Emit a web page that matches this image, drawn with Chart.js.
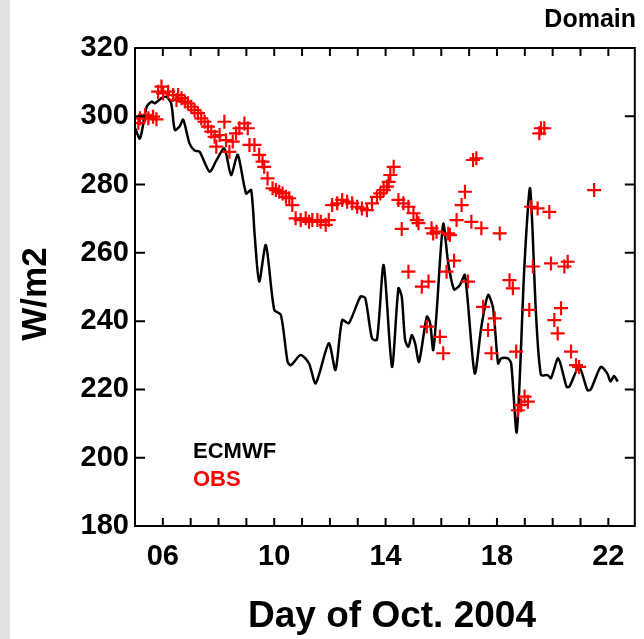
<!DOCTYPE html>
<html>
<head>
<meta charset="utf-8">
<script src="https://cdn.jsdelivr.net/npm/chart.js@4"></script>
<style>
  html, body { margin: 0; padding: 0; }
  body { width: 644px; height: 639px; background: linear-gradient(to right, #e1e1e1 10px, #ffffff 10px); }
  #wrap { position: relative; width: 644px; height: 639px; }
</style>
</head>
<body>
<div id="wrap"><canvas id="myChart"></canvas></div>
<script>
// ECMWF model (black line): day of Oct. 2004, W/m2
var ecmwfDay = [5.0,5.18,5.42,5.6,5.71,5.95,6.13,6.3,6.43,6.6,6.73,6.96,7.14,7.32,7.68,7.92,8.21,8.45,8.69,8.99,9.17,9.3,9.46,9.7,10.0,10.24,10.48,10.6,10.95,11.25,11.49,11.96,12.2,12.44,12.68,13.1,13.27,13.51,13.69,13.93,14.23,14.46,14.58,14.7,14.82,14.94,15.06,15.2,15.48,15.6,15.71,15.83,16.07,16.25,16.46,16.67,16.85,17.2,17.44,17.68,17.86,18.04,18.15,18.39,18.51,18.71,18.99,19.19,19.4,19.58,19.82,19.94,20.2,20.5,20.6,20.95,21.25,21.37,21.73,21.96,22.08,22.2,22.34];
var ecmwfVal = [296.5,293.5,302.8,304.3,303.8,305.3,305.7,303.8,296,297,299,292,290,289.6,283.8,287,290.6,282.8,288.7,277.4,278.4,265,251.6,262.3,243.3,241.8,228.1,227.1,230.1,227.6,221.8,233.5,225.7,240.3,239.4,247.2,246.7,235,234.5,256.4,226.6,249.6,247.2,234.5,232.5,235.9,233.5,228.1,241.3,239.4,231.5,242.3,268.5,256.9,249.3,250.6,253.5,224.7,238.4,247.7,243.8,227.6,229.1,229.1,227.6,207.5,256.9,278.9,242.3,224.2,224.2,223.3,229.1,220.8,220.8,226.6,219.8,220,226.6,224.7,222.3,223.9,222.3];

// OBS (red crosses)
var obsDay = [5.12,5.18,5.36,5.48,5.65,5.77,5.83,5.95,6.01,6.19,6.37,6.49,6.55,6.67,6.79,6.9,7.02,7.14,7.26,7.38,7.5,7.62,7.74,7.86,7.92,8.04,8.21,8.27,8.39,8.51,8.63,8.75,8.93,9.05,9.11,9.29,9.46,9.58,9.64,9.76,9.94,10.06,10.18,10.3,10.42,10.54,10.65,10.77,10.95,11.13,11.25,11.37,11.55,11.67,11.85,11.96,12.08,12.26,12.44,12.62,12.8,12.98,13.15,13.33,13.51,13.69,13.81,13.93,14.05,14.11,14.17,14.29,14.46,14.58,14.64,14.82,14.82,15.0,15.12,15.18,15.3,15.48,15.54,15.65,15.71,15.83,15.95,16.07,16.19,16.25,16.31,16.46,16.55,16.73,16.85,16.96,17.08,17.14,17.26,17.44,17.5,17.68,17.8,17.92,18.1,18.45,18.57,18.69,18.75,18.87,18.99,19.11,19.16,19.23,19.29,19.46,19.52,19.58,19.7,19.88,19.94,20.06,20.18,20.3,20.42,20.54,20.66,20.84,20.95,21.49];
var obsVal = [298,299.4,300.4,299.4,299.9,299.1,307.2,308.7,306.7,307.2,306.2,304.8,306.2,305.3,304.3,303.8,302.8,301.8,300.9,299.4,298.4,297,295.5,294,291.1,294.5,298.4,293,289.6,292.6,295,296.5,297.9,296.5,291.6,291.6,288.7,286.7,285.2,281.8,278.9,278.4,277.9,277.4,276.4,276,274,270.1,269.6,270.1,269.1,269.6,269.6,269.1,268.2,269.6,274,274.5,275.5,275,274.5,273.5,273,272.5,274.5,276.4,277.4,278.4,279.4,280.8,282.8,285.2,275.5,267,274.5,273.5,254.5,271.6,269.6,268.7,250.1,238.4,251.6,267.2,265.7,266.2,235.4,230.6,254.5,265.7,265.2,257.7,269.6,274,277.9,251.6,269.1,287.2,287.7,267.2,244.2,237.4,230.6,240.8,265.7,252,249.6,231.1,213.9,215.4,217.9,216.4,243.3,273.5,256,273,295,296.5,296.5,272,256.9,240.3,236.4,243.8,256,257.4,231.1,227.1,226.6,278.4];

var xLabelDays = [6, 10, 14, 18, 22];
var legendNames = ['ECMWF', 'OBS'];
var xTitle = 'Day of Oct. 2004';
var yTitle = 'W/m2';
var cornerTitle = 'Domain';

var ecmwfPoints = ecmwfDay.map(function (d, i) { return {x: d, y: ecmwfVal[i]}; });
var obsPoints = obsDay.map(function (d, i) { return {x: d, y: obsVal[i]}; });

var FONT = "'Liberation Sans', Arial, sans-serif";

// frame + inward tick marks on all four sides, plus the text labels
var framePlugin = {
  id: 'frame',
  afterDraw: function (chart) {
    var ctx = chart.ctx, a = chart.chartArea;
    var xs = chart.scales.x, ys = chart.scales.y;
    ctx.save();
    ctx.strokeStyle = '#000';
    ctx.lineWidth = 2;
    ctx.strokeRect(a.left, a.top, a.right - a.left, a.bottom - a.top);
    ctx.beginPath();
    xs.ticks.forEach(function (t) {
      var px = xs.getPixelForValue(t.value);
      if (px <= a.left + 1 || px >= a.right - 1) return;
      ctx.moveTo(px, a.bottom); ctx.lineTo(px, a.bottom - 8);
      ctx.moveTo(px, a.top); ctx.lineTo(px, a.top + 8);
    });
    ys.ticks.forEach(function (t) {
      var py = ys.getPixelForValue(t.value);
      if (py <= a.top + 1 || py >= a.bottom - 1) return;
      ctx.moveTo(a.left, py); ctx.lineTo(a.left + 10, py);
      ctx.moveTo(a.right, py); ctx.lineTo(a.right - 10, py);
    });
    ctx.stroke();

    ctx.fillStyle = '#000';
    ctx.textBaseline = 'alphabetic';

    ctx.font = 'bold 25px ' + FONT;
    ctx.textAlign = 'right';
    ctx.fillText(cornerTitle, 636, 27);

    // axis titles
    ctx.font = 'bold 37px ' + FONT;
    ctx.textAlign = 'center';
    ctx.fillText(xTitle, 392, 627);

    ctx.save();
    ctx.translate(46, 294);
    ctx.rotate(-Math.PI / 2);
    ctx.font = 'bold 35px ' + FONT;
    ctx.fillText(yTitle, 0, 0);
    ctx.restore();

    // legend text
    ctx.font = 'bold 22px ' + FONT;
    ctx.textAlign = 'left';
    ctx.fillStyle = '#000';
    ctx.fillText(legendNames[0], 193, 458);
    ctx.fillStyle = '#ff0000';
    ctx.fillText(legendNames[1], 193, 486);
    ctx.restore();
  }
};

var myChart = new Chart(document.getElementById('myChart').getContext('2d'), {
  type: 'scatter',
  data: {
    datasets: [{
      label: legendNames[0],
      data: ecmwfPoints,
      showLine: true,
      borderColor: '#000',
      borderWidth: 2.5,
      tension: 0.25,
      pointRadius: 0,
      order: 2
    }, {
      label: legendNames[1],
      data: obsPoints,
      showLine: false,
      pointStyle: 'cross',
      pointRadius: 7,
      borderColor: '#ff0000',
      backgroundColor: '#ff0000',
      pointBorderWidth: 2.2,
      order: 1
    }]
  },
  options: {
    responsive: true,
    maintainAspectRatio: false,
    animation: false,
    layout: { padding: { top: 48, right: 6, left: 0, bottom: 0 } },
    plugins: { legend: { display: false }, tooltip: { enabled: false } },
    scales: {
      x: {
        type: 'linear',
        min: 5,
        max: 22.95,
        grid: { display: false, drawTicks: false },
        border: { display: false },
        afterFit: function (s) { s.height = 113; },
        ticks: {
          stepSize: 1,
          includeBounds: false,
          autoSkip: false,
          maxRotation: 0,
          padding: 14,
          color: '#000',
          font: { family: FONT, size: 29, weight: 'bold' },
          callback: function (v) {
            return xLabelDays.indexOf(v) >= 0 ? (v < 10 ? '0' + v : '' + v) : '';
          }
        }
      },
      y: {
        min: 180,
        max: 320,
        grid: { display: false, drawTicks: false },
        border: { display: false },
        afterFit: function (s) { s.width = 135; },
        ticks: {
          stepSize: 20,
          padding: 6,
          color: '#000',
          font: { family: FONT, size: 29, weight: 'bold' }
        }
      }
    }
  },
  plugins: [framePlugin]
});
</script>
</body>
</html>
